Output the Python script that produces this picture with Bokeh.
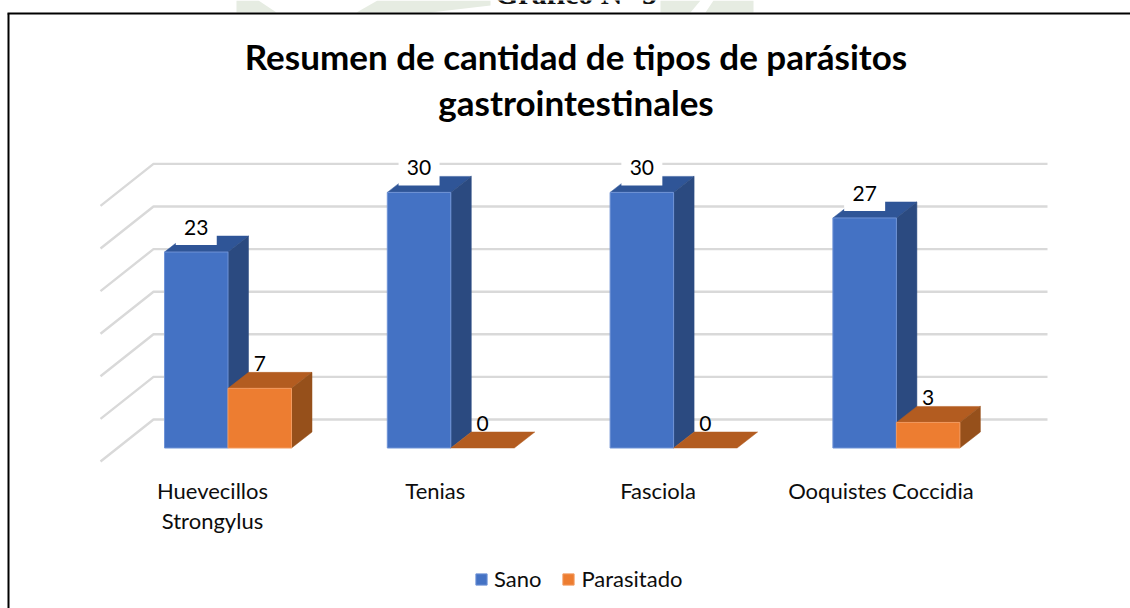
from bokeh.plotting import figure
from bokeh.models import Range1d, FixedTicker, LinearAxis, Legend, LegendItem, ColumnDataSource
from bokeh.core.properties import value
from bokeh.embed import file_html
from bokeh.resources import INLINE

# ---- data
categories = ["Huevecillos\nStrongylus", "Tenias", "Fasciola", "Ooquistes Coccidia"]
sano = [23, 30, 30, 27]
parasitado = [7, 0, 0, 3]
grid_values = [0, 5, 10, 15, 20, 25, 30]
title_lines = ["Resumen de cantidad de tipos de parásitos", "gastrointestinales"]
series_names = ["Sano", "Parasitado"]
caption = "Gráfico N° 5"

# ---- layout constants, in pixels of the page
W, H = 1130, 608
X0 = 212.0          # page x of the first category
CAT = 222.8         # pixels per category
Y0 = 447.5          # page y of value 0 on the bars' front plane
UNIT = 8.52         # pixels per unit
FONT = "Lato"

def xd(px):
    return px / CAT
def yd(py):
    return py / UNIT
def X(page_x):
    return (page_x - X0) / CAT
def Y(page_y):
    return (Y0 - page_y) / UNIT

p = figure(width=W, height=H, output_backend="svg", toolbar_location=None,
           x_range=Range1d(X(0), X(W)), y_range=Range1d(Y(H), Y(0)),
           x_axis_location=None, y_axis_location=None,
           min_border=0, min_border_left=0, min_border_right=0,
           min_border_top=0, min_border_bottom=0,
           outline_line_color=None, background_fill_color="white",
           border_fill_color="white")
p.xgrid.visible = False
p.ygrid.visible = False

# ---- page behind the chart: pale watermark and the clipped caption above the frame
WM = "#E6ECE2"
wm_x = [[236, 258, 276, 236], [377, 490, 490, 430, 356], [660, 700, 690, 660], [713, 753, 753, 705]]
wm_y = [[0, 0, 12, 12], [0, 0, 5, 12, 12], [0, 0, 12, 12], [0, 0, 12, 12]]
p.patches([[X(a) for a in xs_] for xs_ in wm_x], [[Y(b) for b in ys_] for ys_ in wm_y],
          fill_color=WM, line_color=None)
p.text(x=[X(575.5)], y=[Y(-7.5)], text=[caption], text_font=value("Liberation Serif"),
       text_font_size="30px", text_font_style="bold", text_color="#111111",
       text_align="center", text_baseline="alphabetic")

# ---- chart frame (its right and bottom edges are off the picture)
p.line([X(7), X(W)], [Y(13)] * 2, line_color="black", line_width=2)
p.line([X(8)] * 2, [Y(13), Y(H)], line_color="black", line_width=2)

# ---- pseudo-3D gridlines: back wall and floor diagonal
GRID = "#D9D9D9"
back_l, back_r, front_l = X(153), X(1047), X(100)
back_base, front_base = Y(419), Y(461)
for v in grid_values:
    p.line([front_l, back_l, back_r], [front_base + v, back_base + v, back_base + v],
           line_color=GRID, line_width=2.4)

# ---- 3D bars
DX, DY = xd(20.5), yd(16)
L1, M, R2 = xd(-48), xd(15.5), xd(79)

def bar3d(i, v, left, right, top, side):
    p.patch([i + left, i + right, i + right + DX, i + left + DX],
            [v, v, v + DY, v + DY], fill_color=top, line_color=top, line_width=0.5)
    if v > 0:
        p.patch([i + right, i + right + DX, i + right + DX, i + right],
                [0, DY, v + DY, v], fill_color=side, line_color=side, line_width=0.5)

xs = list(range(len(categories)))

for i, v in zip(xs, sano):
    bar3d(i, v, L1, M, "#2F5597", "#2B4A80")
blue_src = ColumnDataSource(dict(
    left=[i + L1 for i in xs], right=[i + M for i in xs], top=sano, bottom=[0] * len(xs)))
blue = p.quad(left="left", right="right", top="top", bottom="bottom", source=blue_src,
              fill_color="#4472C4", line_color="#6F93D6", line_width=1)

# value labels of the blue bars, on white boxes
p.rect(x=[i + (L1 + M) / 2 for i in xs], y=[v + yd(24.5) for v in sano],
       width=xd(41), height=yd(35), fill_color="white", line_color=None)
p.text(x=[i + (L1 + M) / 2 for i in xs], y=[v + yd(24.5) for v in sano],
       text=[str(v) for v in sano], text_font=value(FONT), text_font_size="21px",
       text_color="black", text_align="center", text_baseline="middle")

# value labels of the orange bars, no box
p.text(x=[i + (M + R2) / 2 for i in xs], y=[v + yd(24.5) for v in parasitado],
       text=[str(v) for v in parasitado], text_font=value(FONT), text_font_size="21px",
       text_color="black", text_align="center", text_baseline="middle")

for i, v in zip(xs, parasitado):
    bar3d(i, v, M, R2, "#B35C20", "#96501B")
nz = [i for i, v in zip(xs, parasitado) if v > 0]
orange_src = ColumnDataSource(dict(
    left=[i + M for i in nz], right=[i + R2 for i in nz],
    top=[parasitado[i] for i in nz], bottom=[0] * len(nz)))
orange = p.quad(left="left", right="right", top="top", bottom="bottom", source=orange_src,
                fill_color="#ED7D31", line_color="#F29A5E", line_width=1)

# ---- category axis, inside the frame at the floor line
ax = LinearAxis(fixed_location=Y(470))
ax.ticker = FixedTicker(ticks=xs)
ax.major_label_overrides = {i: c for i, c in zip(xs, categories)}
ax.axis_line_color = None
ax.major_tick_line_color = None
ax.minor_tick_line_color = None
ax.major_label_text_font = FONT
ax.major_label_text_font_size = "22px"
ax.major_label_text_color = "#0D0D0D"
ax.major_label_text_line_height = 1.13
ax.major_label_standoff = 0
p.add_layout(ax, "below")

# ---- title
p.text(x=[X(575.5), X(575.5)], y=[Y(55), Y(101.5)], text=title_lines,
       text_font=value(FONT), text_font_size="35px", text_font_style="bold",
       text_color="black", text_align="center", text_baseline="middle")

# ---- legend
legend = Legend(items=[LegendItem(label=series_names[0], renderers=[blue]),
                       LegendItem(label=series_names[1], renderers=[orange])],
                orientation="horizontal", location=(474, 16),
                background_fill_alpha=0, border_line_color=None,
                glyph_width=14, glyph_height=14, label_standoff=6, spacing=20,
                padding=0, margin=0,
                label_text_font=FONT, label_text_font_size="22px",
                label_text_color="#0D0D0D")
p.add_layout(legend, "center")

open("out.html", "w").write(file_html(p, INLINE))
